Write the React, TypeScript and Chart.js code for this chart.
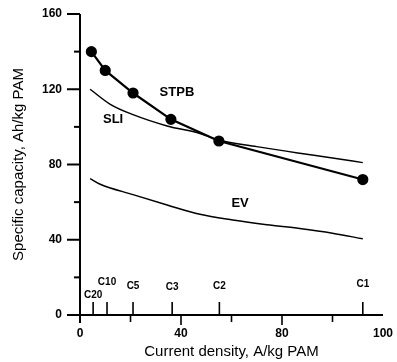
import { useEffect, useRef } from 'react';
import { Chart, registerables } from 'chart.js';

Chart.register(...registerables);

// ---- data ----
const stpbX = [4.5, 10, 21, 36, 55, 112];
const stpbY = [140, 130, 118, 104, 92.5, 72];

const sliX = [4, 12, 21, 34.5, 47.5, 55, 70, 87, 100, 112];
const sliY = [120, 112, 106.5, 100.5, 96.5, 93, 89.5, 86, 83.5, 81];

const evX = [4, 8, 21, 34.5, 47.5, 60.5, 74, 87, 100, 112];
const evY = [72.5, 69.5, 64, 58.5, 53.5, 50.5, 48, 46, 43.5, 40.5];

const rateLabels = ['C20', 'C10', 'C5', 'C3', 'C2', 'C1'];
const rateX = [5.2, 10.7, 21, 36.5, 55.2, 112];

const seriesNames = ['STPB', 'SLI', 'EV'];

const xTitle = 'Current density, A/kg PAM';
const yTitle = 'Specific capacity, Ah/kg PAM';

// label annotations (data coordinates)
const seriesLabelPos = [
  { x: 38.4, y: 118.5 },
  { x: 13.1, y: 104.2 },
  { x: 63.4, y: 59.5 },
];
const rateLabelOffset = [20, 33, 29, 28, 29, 31];

const FONT = '"Liberation Sans", Arial, Helvetica, sans-serif';

const toPts = (xs: number[], ys: number[]) => xs.map((x, i) => ({ x, y: ys[i] }));

const axesPlugin = {
  id: 'paperAxes',
  afterDatasetsDraw(chart: any) {
    const { ctx, chartArea, scales } = chart;
    const xs = scales.x;
    const ys = scales.y;
    const L = chartArea.left;
    const B = chartArea.bottom;
    ctx.save();
    ctx.strokeStyle = '#000';
    ctx.fillStyle = '#000';
    ctx.lineWidth = 2;
    ctx.lineCap = 'butt';
    // y axis (extends below x axis)
    ctx.beginPath();
    ctx.moveTo(L, ys.getPixelForValue(160));
    ctx.lineTo(L, B + 8);
    ctx.stroke();
    // x axis (extends left of y axis)
    ctx.beginPath();
    ctx.moveTo(L - 13, B);
    ctx.lineTo(xs.getPixelForValue(120), B);
    ctx.stroke();
    // y ticks
    for (let v = 20; v <= 160; v += 20) {
      const p = ys.getPixelForValue(v);
      const len = v % 40 === 0 ? 13 : 6;
      ctx.beginPath();
      ctx.moveTo(L - len, p);
      ctx.lineTo(L, p);
      ctx.stroke();
    }
    // x ticks
    ctx.lineWidth = 1.6;
    for (let v = 20; v <= 100; v += 20) {
      const p = xs.getPixelForValue(v);
      const len = v % 40 === 0 ? 10 : 7;
      ctx.beginPath();
      ctx.moveTo(p, B);
      ctx.lineTo(p, B + len);
      ctx.stroke();
    }
    // C-rate markers
    ctx.font = `bold 10px ${FONT}`;
    ctx.textAlign = 'center';
    ctx.textBaseline = 'middle';
    rateX.forEach((rx, i) => {
      const p = xs.getPixelForValue(rx);
      ctx.beginPath();
      ctx.moveTo(p, B);
      ctx.lineTo(p, B - 13);
      ctx.stroke();
      ctx.fillText(rateLabels[i], p, B - rateLabelOffset[i]);
    });
    // series labels
    ctx.font = `bold 13px ${FONT}`;
    seriesNames.forEach((n, i) => {
      const pos = seriesLabelPos[i];
      ctx.fillText(n, xs.getPixelForValue(pos.x), ys.getPixelForValue(pos.y));
    });
    ctx.restore();
  },
};

export default function App() {
  const ref = useRef<HTMLCanvasElement | null>(null);
  useEffect(() => {
    if (!ref.current) return;
    const chart = new Chart(ref.current, {
      type: 'line',
      data: {
        datasets: [
          {
            label: seriesNames[0],
            data: toPts(stpbX, stpbY),
            borderColor: '#000',
            backgroundColor: '#000',
            borderWidth: 2.2,
            pointRadius: 4.5,
            pointBackgroundColor: '#000',
            pointBorderColor: '#000',
            tension: 0,
          },
          {
            label: seriesNames[1],
            data: toPts(sliX, sliY),
            borderColor: '#000',
            borderWidth: 1.5,
            pointRadius: 0,
            tension: 0.4,
            cubicInterpolationMode: 'monotone',
          },
          {
            label: seriesNames[2],
            data: toPts(evX, evY),
            borderColor: '#000',
            borderWidth: 1.5,
            pointRadius: 0,
            tension: 0.4,
            cubicInterpolationMode: 'monotone',
          },
        ],
      },
      options: {
        responsive: false,
        animation: false,
        events: [],
        layout: { padding: { top: 14, right: 14, left: 0, bottom: 0 } },
        plugins: { legend: { display: false }, tooltip: { enabled: false } },
        scales: {
          x: {
            type: 'linear',
            min: 0,
            max: 120,
            afterFit: (s: any) => {
              s.height = 47;
              s.paddingLeft = 0;
              s.paddingRight = 0;
            },
            grid: { display: false, drawTicks: false },
            border: { display: false },
            ticks: {
              stepSize: 20,
              autoSkip: false,
              maxRotation: 0,
              padding: 11,
              color: '#000',
              font: { family: FONT, size: 12, weight: 'bold' },
              callback: (v: any) => (v % 40 === 0 ? (v === 120 ? '100' : String(v)) : ''),
            },
            title: {
              display: true,
              text: xTitle,
              color: '#000',
              font: { family: FONT, size: 15 },
              padding: { top: 0, bottom: 1 },
            },
          },
          y: {
            type: 'linear',
            min: 0,
            max: 160,
            afterFit: (s: any) => {
              s.width = 80;
              s.paddingTop = 0;
              s.paddingBottom = 0;
            },
            grid: { display: false, drawTicks: false },
            border: { display: false },
            ticks: {
              stepSize: 20,
              autoSkip: false,
              padding: 18,
              color: '#000',
              font: { family: FONT, size: 12, weight: 'bold' },
              callback: (v: any) => (v % 40 === 0 ? String(v) : ''),
            },
            title: {
              display: true,
              text: yTitle,
              color: '#000',
              font: { family: FONT, size: 15 },
              padding: { top: 10, bottom: 0 },
            },
          },
        },
      },
      plugins: [axesPlugin],
    } as any);
    return () => chart.destroy();
  }, []);
  return (
    <canvas
      ref={ref}
      width={397}
      height={362}
      style={{ position: 'absolute', left: 0, top: 0, display: 'block', background: '#fff' }}
    />
  );
}
